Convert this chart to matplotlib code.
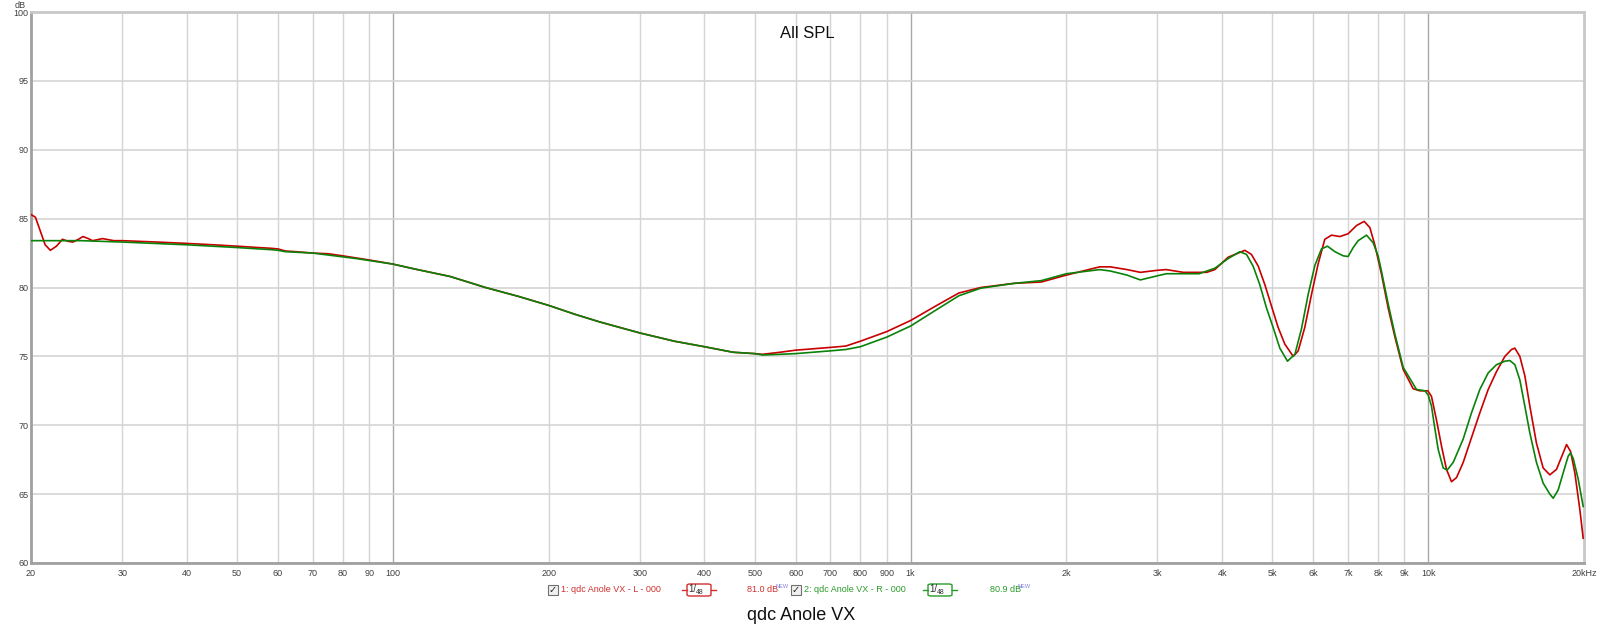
import numpy as np
import matplotlib
matplotlib.use('Agg')
import matplotlib.pyplot as plt
from matplotlib.patches import Rectangle, FancyBboxPatch

# left channel (red)
freq_l = [20, 20.4, 20.8, 21.3, 21.8, 22.4, 23.0, 23.6, 24.1, 24.7, 25.2, 25.8, 26.3, 27.5, 28.9,
          30, 35, 40, 45, 50, 55, 58, 60, 62, 65, 70, 75, 80, 90, 100,
          110, 129, 151, 175, 200, 225, 251, 300, 350, 400, 454, 500, 518, 560, 600,
          700, 750, 800, 900, 1000, 1124, 1240, 1367, 1585, 1790, 2000, 2320, 2430, 2620, 2780,
          3000, 3120, 3365, 3735, 3872, 4108, 4297, 4424, 4556, 4696, 4837, 4981, 5131, 5284,
          5487, 5610, 5776, 5952, 6129, 6314, 6507, 6751, 7003, 7272, 7523, 7715, 7887, 8122,
          8371, 8626, 8949, 9355, 9637, 9985, 10148, 10375, 10610, 10848, 11094, 11344, 11686,
          12125, 12584, 13061, 13555, 14066, 14488, 14704, 15033, 15371, 15717, 16188, 16677,
          17181, 17700, 18234, 18506, 18839, 19200, 19631, 19927]
spl_l = [85.3, 85.1, 84.2, 83.1, 82.7, 83.0, 83.5, 83.35, 83.3, 83.5, 83.7, 83.55, 83.4, 83.55, 83.4,
         83.4, 83.3, 83.2, 83.1, 83.0, 82.9, 82.85, 82.8, 82.65, 82.6, 82.5, 82.45, 82.3, 82.0, 81.7,
         81.35, 80.8, 80.0, 79.35, 78.7, 78.05, 77.5, 76.7, 76.1, 75.7, 75.3, 75.2, 75.15, 75.3, 75.45,
         75.65, 75.75, 76.1, 76.8, 77.6, 78.7, 79.6, 80.0, 80.3, 80.4, 80.9, 81.5, 81.5, 81.3, 81.1,
         81.25, 81.3, 81.1, 81.1, 81.3, 82.2, 82.5, 82.7, 82.4, 81.55, 80.2, 78.65, 77.1, 75.9,
         75.0, 75.4, 77.1, 79.5, 81.7, 83.5, 83.8, 83.7, 83.9, 84.5, 84.8, 84.35, 83.1, 81.0,
         78.5, 76.4, 74.05, 72.65, 72.5, 72.5, 72.1, 70.4, 68.5, 66.8, 65.9, 66.2, 67.3,
         69.1, 70.9, 72.6, 73.9, 75.0, 75.5, 75.6, 75.0, 73.6, 71.4, 68.7, 66.9,
         66.4, 66.8, 68.0, 68.6, 68.1, 66.55, 63.9, 61.8]

# right channel (green)
freq_r = [20, 25, 30, 40, 50, 58, 60, 62, 70, 85, 100,
          110, 129, 151, 175, 200, 225, 251, 300, 350, 400, 454, 500, 518, 560, 600,
          700, 750, 800, 900, 1000, 1124, 1240, 1367, 1585, 1790, 2000, 2320, 2430, 2620, 2780,
          3000, 3120, 3610, 3872, 4108, 4328, 4457, 4591, 4729, 4873, 5018, 5169, 5348, 5528,
          5692, 5864, 6041, 6221, 6390, 6605, 6852, 7003, 7164, 7325, 7601, 7828, 8003, 8122,
          8371, 8626, 8949, 9493, 9856, 10000, 10148, 10299, 10455, 10691, 10884, 11177, 11686,
          12125, 12584, 13061, 13555, 14066, 14381, 14704, 15033, 15371, 15717, 16188, 16677,
          17181, 17439, 17828, 18234, 18640, 18839, 19061, 19488, 19927]
spl_r = [83.4, 83.4, 83.3, 83.1, 82.9, 82.75, 82.7, 82.6, 82.5, 82.1, 81.7,
         81.35, 80.8, 80.0, 79.35, 78.7, 78.05, 77.5, 76.7, 76.1, 75.7, 75.3, 75.2, 75.1, 75.15, 75.2,
         75.4, 75.5, 75.7, 76.4, 77.2, 78.4, 79.4, 79.95, 80.3, 80.5, 81.0, 81.3, 81.2, 80.9, 80.55,
         80.85, 81.0, 81.0, 81.4, 82.1, 82.6, 82.4, 81.55, 80.2, 78.5, 77.1, 75.6, 74.65, 75.15,
         77.0, 79.5, 81.6, 82.8, 83.0, 82.6, 82.3, 82.25, 82.9, 83.4, 83.8, 83.25, 82.3, 81.2,
         78.8, 76.6, 74.2, 72.6, 72.5, 72.2, 71.4, 69.8, 68.25, 66.9, 66.75, 67.3, 69.0,
         70.9, 72.6, 73.8, 74.4, 74.65, 74.7, 74.4, 73.3, 71.4, 69.45, 67.3, 65.8,
         65.0, 64.7, 65.3, 66.55, 67.75, 68.0, 67.6, 66.1, 64.1]

xticks = [20, 30, 40, 50, 60, 70, 80, 90, 100, 200, 300, 400, 500, 600, 700, 800, 900,
          1000, 2000, 3000, 4000, 5000, 6000, 7000, 8000, 9000, 10000, 20000]
xlabels = ['20', '30', '40', '50', '60', '70', '80', '90', '100', '200', '300', '400', '500',
           '600', '700', '800', '900', '1k', '2k', '3k', '4k', '5k', '6k', '7k', '8k', '9k',
           '10k', '20kHz']
yticks = [60, 65, 70, 75, 80, 85, 90, 95, 100]

red = '#c80000'
green = '#0a820a'
lsize = 6.5

plt.rc('font', family=['Liberation Sans', 'DejaVu Sans'])

fig = plt.figure(figsize=(16, 6.3), dpi=100)
ax = fig.add_axes([31/1600, 67/630, 1553/1600, 551/630])

ax.set_xscale('log')
ax.set_xlim(20, 20000)
ax.set_ylim(60, 100)

# grid
for f in xticks:
  if f in (100, 1000, 10000):
    ax.axvline(f, color='#a8a8a8', lw=1.0, zorder=1)
  else:
    ax.axvline(f, color='#d4d4d4', lw=1.0, zorder=1)
for y in yticks:
  ax.axhline(y, color='#d4d4d4', lw=1.2, zorder=1)

ax.plot(freq_l, spl_l, color=red, lw=1.2, zorder=3, solid_joinstyle='round')
ax.plot(freq_r, spl_r, color=green, lw=1.2, zorder=4, solid_joinstyle='round')

ax.set_xticks(xticks)
ax.set_xticklabels(xlabels)
ax.minorticks_off()
ax.set_yticks(yticks)
ax.set_yticklabels([str(y) for y in yticks])
ax.tick_params(length=0, labelsize=lsize, colors='#404040', pad=4)
ax.tick_params(axis='y', pad=2)
for side in ['left', 'bottom']:
  ax.spines[side].set_color('#a0a0a0')
  ax.spines[side].set_linewidth(2.0)
for side in ['top', 'right']:
  ax.spines[side].set_color('#c8c8c8')
  ax.spines[side].set_linewidth(2.0)

fig.text(20/1600, 1 - 5/630, 'dB', fontsize=lsize, color='#404040', ha='center', va='center')
ax.text(0.5, 0.975, 'All SPL', transform=ax.transAxes, ha='center', va='top', fontsize=12, color='#101010')

# legend row
ly = 1 - 590/630

def legend_item(x0, label, color, level, boxx, levx):
  fig.patches.append(Rectangle((x0/1600, ly - 5/630), 10/1600, 10/630, transform=fig.transFigure,
                               facecolor='#f0f0f0', edgecolor='#707070', lw=0.8))
  fig.text((x0 + 5)/1600, ly, '\u2713', fontsize=7, ha='center', va='center', color='#202020',
           family='DejaVu Sans')
  fig.text((x0 + 13)/1600, ly, label, fontsize=lsize, color=color, va='center', ha='left')
  fig.patches.append(FancyBboxPatch((boxx/1600, ly - 6/630), 24/1600, 12/630,
                                    boxstyle='round,pad=0,rounding_size=0.002',
                                    transform=fig.transFigure, facecolor='white',
                                    edgecolor=color, lw=1.0))
  fig.lines.append(plt.Line2D([(boxx - 5)/1600, boxx/1600], [ly, ly], transform=fig.transFigure,
                              color=color, lw=1.0))
  fig.lines.append(plt.Line2D([(boxx + 24)/1600, (boxx + 29)/1600], [ly, ly], transform=fig.transFigure,
                              color=color, lw=1.0))
  fig.text((boxx + 9)/1600, ly + 1/630, '1/', fontsize=7, ha='right', va='center', color='#303030')
  fig.text((boxx + 9)/1600, ly - 2/630, '48', fontsize=5, ha='left', va='center', color='#303030')
  fig.text(levx/1600, ly, level, fontsize=lsize, color=color, va='center', ha='left')
  fig.text((levx + 28)/1600, ly + 3/630, 'NEW', fontsize=4, color='#8080e0', va='center', ha='left')

legend_item(548, '1: qdc Anole VX - L - 000', '#d03030', '81.0 dB', 687, 747)
legend_item(791, '2: qdc Anole VX - R - 000', '#2a9a2a', '80.9 dB', 928, 990)

fig.text(801/1600, 1 - 615/630, 'qdc Anole VX', fontsize=13, ha='center', va='center', color='#101010')

fig.savefig('out.png', dpi=100, facecolor='white')
